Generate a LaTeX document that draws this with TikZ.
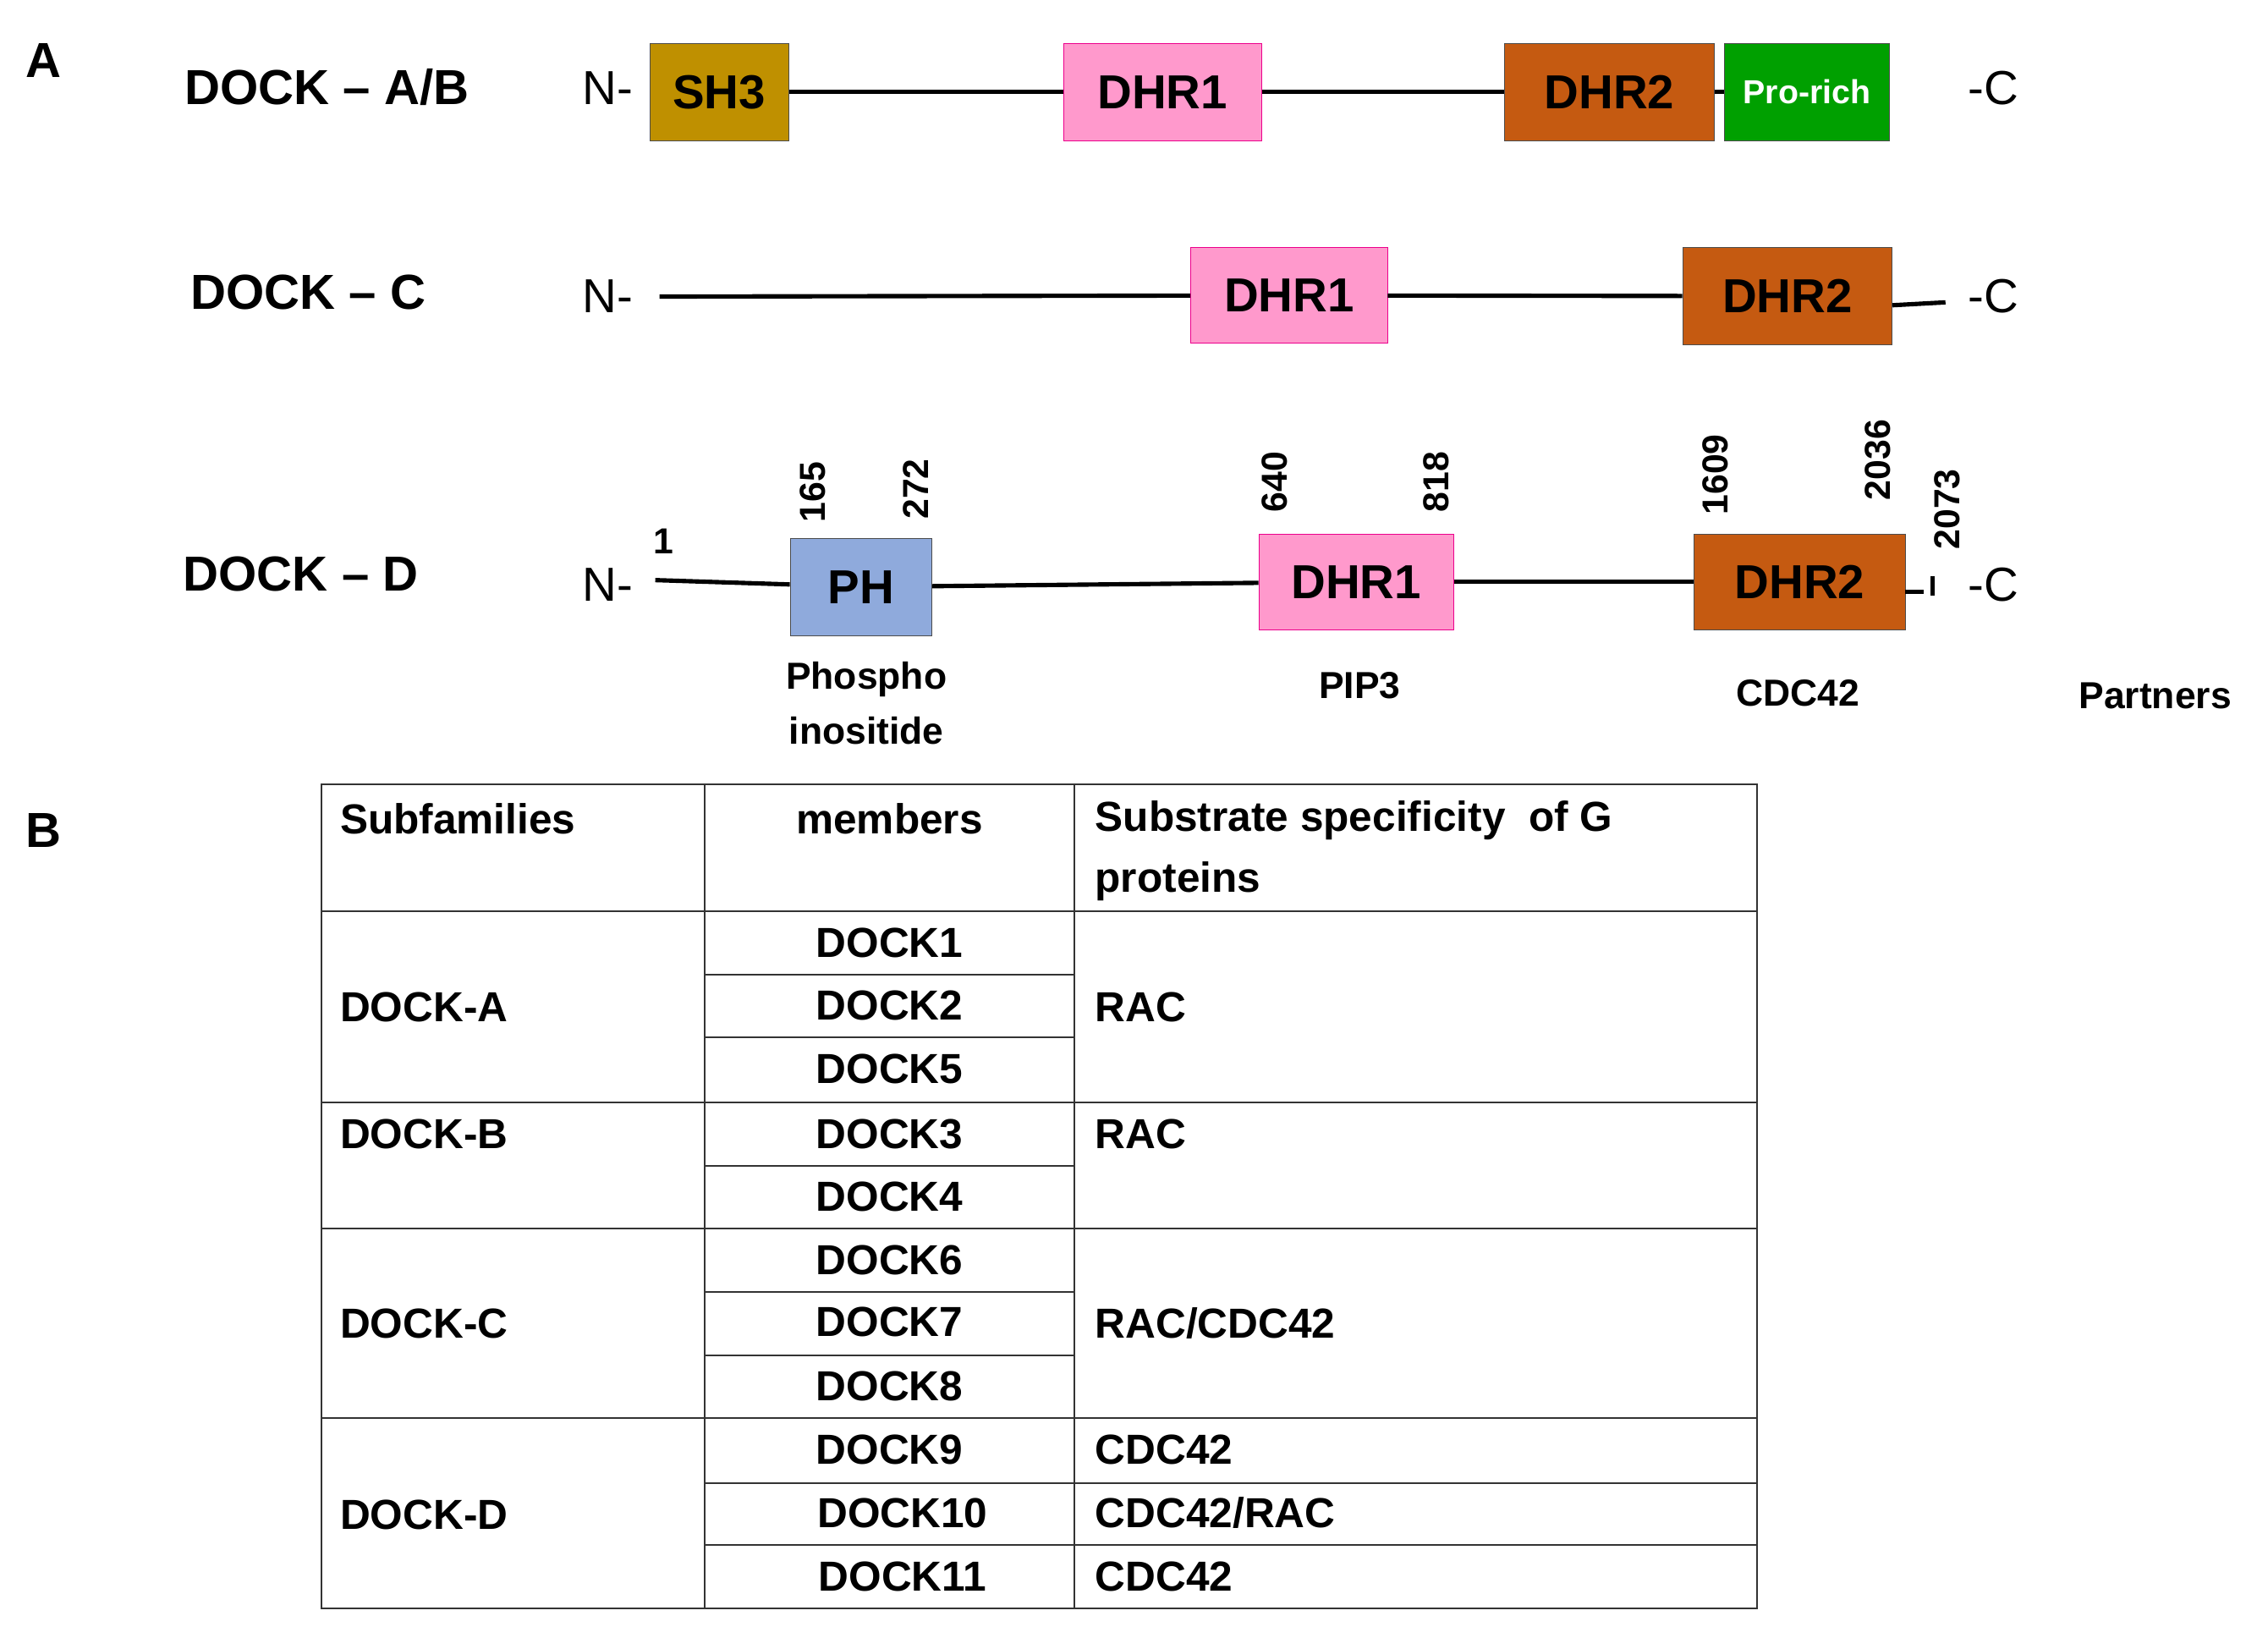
\documentclass[tikz,border=0pt]{standalone}
\usepackage{fontspec}
\setmainfont{Liberation Sans}
\definecolor{sh}{HTML}{BF9000}
\definecolor{dhra}{HTML}{FF99CC}
\definecolor{dhrb}{HTML}{C55A11}
\definecolor{pro}{HTML}{00A000}
\definecolor{ph}{HTML}{8FAADC}
\begin{document}
\begin{tikzpicture}[x=1pt,y=-1pt,
 lab/.style={font=\fontsize{34}{40}\selectfont\bfseries,inner sep=0},
 plain/.style={font=\fontsize{33}{40}\selectfont,inner sep=0},
 num/.style={font=\fontsize{25}{30}\selectfont\bfseries,inner sep=0,rotate=90},
 small/.style={font=\fontsize{26}{38}\selectfont\bfseries,inner sep=0,align=center},
 tb/.style={font=\fontsize{29}{40}\selectfont\bfseries,inner sep=0},
 dom/.style={draw,font=\fontsize{33}{40}\selectfont\bfseries,inner sep=0,anchor=north west},
 ln/.style={line width=3pt}]
\useasboundingbox (0,0) rectangle (1568,1132);
% Part A
\node[lab] (A) at (30,42) {A};
\node[lab] (tA) at (226,60) {DOCK – A/B};
\node[plain] (nA) at (420,61) {N-};
\node[dom,fill=sh,draw=black!70,minimum width=96,minimum height=67] (sh3) at (449,30) {SH3};
\node[dom,fill=dhra,draw=magenta,minimum width=137,minimum height=67] (d1a) at (735,30) {DHR1};
\node[dom,fill=dhrb,draw=black!70,minimum width=145,minimum height=67] (d2a) at (1040,30) {DHR2};
\node[dom,fill=pro,draw=black!70,minimum width=114,minimum height=67,text=white,font=\fontsize{23}{28}\selectfont\bfseries] (pr) at (1192,30) {Pro-rich};
\node[plain] (cA) at (1378,61) {-C};
\draw[ln] (sh3) -- (d1a); \draw[ln] (d1a) -- (d2a); \draw[ln] (d2a) -- (pr);
% C
\node[lab] (tC) at (213,202) {DOCK – C};
\node[plain] (nC) at (420,205) {N-};
\coordinate (sC) at (456,205);
\node[dom,fill=dhra,draw=magenta,minimum width=136,minimum height=66] (d1c) at (823,171) {DHR1};
\node[dom,fill=dhrb,draw=black!70,minimum width=145,minimum height=67] (d2c) at (1163,171) {DHR2};
\coordinate (eC) at (1345,209);
\node[plain] (cC) at (1378,205) {-C};
\draw[ln] (sC) -- (d1c); \draw[ln] (d1c) -- (d2c); \draw[ln] (d2c.east |- 0,211) -- (eC);
% D
\node[lab] (tD) at (208,397) {DOCK – D};
\node[plain] (nD) at (420,404) {N-};
\coordinate (sD) at (453,401);
\node[font=\fontsize{25}{30}\selectfont\bfseries,inner sep=0] (one) at (459,374) {1};
\node[dom,fill=ph,draw=black!70,minimum width=98,minimum height=67] (ph) at (546,372) {PH};
\node[dom,fill=dhra,draw=magenta,minimum width=135,minimum height=66] (d1d) at (870,369) {DHR1};
\node[dom,fill=dhrb,draw=black!70,minimum width=146,minimum height=66] (d2d) at (1171,369) {DHR2};
\node[plain] (cD) at (1378,404) {-C};
\draw[ln] (sD) -- (ph.west |- 0,404); \draw[ln] (ph) -- (d1d); \draw[ln] (d1d) -- (d2d);
\coordinate (eD1) at (1317,409); \coordinate (eD2) at (1330,409);
\draw[ln] (eD1) -- (eD2);
\coordinate (tk1) at (1336,398); \coordinate (tk2) at (1336,412);
\draw[ln] (tk1) -- (tk2);
\node[num] (n1) at (562,340) {165};
\node[num] (n2) at (633,338) {272};
\node[num] (n3) at (881,333) {640};
\node[num] (n4) at (993,333) {818};
\node[num] (n5) at (1186,328) {1609};
\node[num] (n6) at (1298,318) {2036};
\node[num] (n7) at (1346,352) {2073};
\node[small] (p1) at (599,486) {Phospho\\inositide};
\node[small] (p2) at (940,474) {PIP3};
\node[small] (p3) at (1243,479) {CDC42};
\node[small] (p4) at (1490,481) {Partners};
% Part B
\node[lab] (B) at (30,574) {B};
\begin{scope}[line width=1.2pt,draw=black!80]
\draw (222,542) rectangle (1215,1112);
\draw (487,542) -- (487,1112); \draw (743,542) -- (743,1112);
\foreach \y in {630,762,849,980} \draw (222,\y) -- (1215,\y);
\foreach \y in {674,717,806,893,937} \draw (487,\y) -- (743,\y);
\foreach \y in {1025,1068} \draw (487,\y) -- (1215,\y);
\end{scope}
\node[tb,anchor=west] (h1) at (235,566) {Subfamilies};
\node[tb] (h2) at (615,566) {members};
\node[tb,anchor=west] (h3) at (757,567) {Substrate specificity~ of G};
\node[tb,anchor=west] (h3b) at (757,609) {proteins};
\node[tb,anchor=west] (fA) at (235,696) {DOCK-A};
\node[tb,anchor=west] (fB) at (235,784) {DOCK-B};
\node[tb,anchor=west] (fC) at (235,915) {DOCK-C};
\node[tb,anchor=west] (fD) at (235,1047) {DOCK-D};
\node[tb] (m1) at (615,652) {DOCK1};
\node[tb] (m2) at (615,695) {DOCK2};
\node[tb] (m5) at (615,739) {DOCK5};
\node[tb] (m3) at (615,784) {DOCK3};
\node[tb] (m4) at (615,827) {DOCK4};
\node[tb] (m6) at (615,871) {DOCK6};
\node[tb] (m7) at (615,914) {DOCK7};
\node[tb] (m8) at (615,958) {DOCK8};
\node[tb] (m9) at (615,1002) {DOCK9};
\node[tb] (m10) at (624,1046) {DOCK10};
\node[tb] (m11) at (624,1090) {DOCK11};
\node[tb,anchor=west] (s1) at (757,696) {RAC};
\node[tb,anchor=west] (s2) at (757,784) {RAC};
\node[tb,anchor=west] (s3) at (757,915) {RAC/CDC42};
\node[tb,anchor=west] (s4) at (757,1002) {CDC42};
\node[tb,anchor=west] (s5) at (757,1046) {CDC42/RAC};
\node[tb,anchor=west] (s6) at (757,1090) {CDC42};
\end{tikzpicture}
\end{document}
